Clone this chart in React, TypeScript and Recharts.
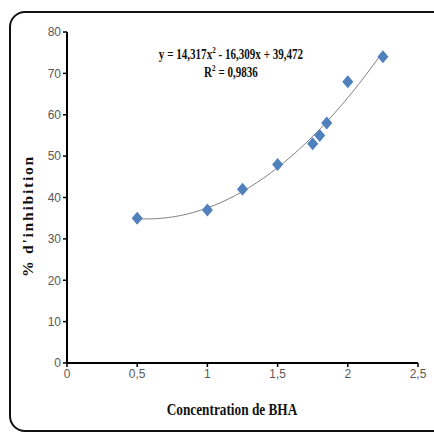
import React from "react";
import { ComposedChart, Scatter, Line, XAxis, YAxis } from "recharts";

// Measured points (BHA concentration vs % inhibition)
const concentrations = [0.5, 1, 1.25, 1.5, 1.75, 1.8, 1.85, 2, 2.25];
const inhibition = [35, 37, 42, 48, 53, 55, 58, 68, 74];

// Polynomial trendline coefficients as printed on the chart
const trendA = 14.317;
const trendB = -16.309;
const trendC = 39.472;
const trendStart = 0.5;
const trendEnd = 2.25;

const xTicks = [0, 0.5, 1, 1.5, 2, 2.5];
const yTicks = [0, 10, 20, 30, 40, 50, 60, 70, 80];

const points = concentrations.map((x, i) => ({ x, y: inhibition[i] }));

const trend: { x: number; t: number }[] = [];
for (let i = 0; i <= 70; i++) {
  const x = trendStart + ((trendEnd - trendStart) * i) / 70;
  trend.push({ x, t: trendA * x * x + trendB * x + trendC });
}

const fmt = (v: number) => String(v).replace(".", ",");

const tickFont = {
  fill: "#595959",
  fontSize: 12,
  fontFamily: "'Liberation Sans Narrow', 'Liberation Sans', Arial, sans-serif",
};

const serif = "'Liberation Serif', 'Times New Roman', serif";

const Diamond = (props: any) => {
  const { cx, cy } = props;
  if (cx == null || cy == null) return null;
  const r = 6.5;
  return (
    <path
      d={`M${cx},${cy - r} L${cx + r * 0.85},${cy} L${cx},${cy + r} L${cx - r * 0.85},${cy} Z`}
      fill="#4F81BD"
    />
  );
};

export default function App() {
  return (
    <div
      style={{
        position: "absolute",
        left: 0,
        top: 0,
        width: 434,
        height: 440,
        background: "#fff",
        overflow: "hidden",
      }}
    >
      <div
        style={{
          position: "absolute",
          left: 9,
          top: 11,
          width: 440,
          height: 421,
          border: "2.5px solid #111",
          borderRadius: 16,
          boxSizing: "border-box",
        }}
      />
      <div style={{ position: "absolute", left: 0, top: 0 }}>
        <ComposedChart
          width={434}
          height={440}
          margin={{ top: 32, right: 16, bottom: 47, left: 17 }}
        >
          <XAxis
            type="number"
            dataKey="x"
            domain={[0, 2.5]}
            ticks={xTicks}
            tickFormatter={fmt}
            axisLine={{ stroke: "#000", strokeWidth: 2 }}
            tickLine={{ stroke: "#000", strokeWidth: 1.5 }}
            tickSize={4}
            tick={tickFont}
            height={30}
            allowDataOverflow
          />
          <YAxis
            type="number"
            domain={[0, 80]}
            ticks={yTicks}
            axisLine={{ stroke: "#000", strokeWidth: 2 }}
            tickLine={{ stroke: "#000", strokeWidth: 1.5 }}
            tickSize={4}
            tick={tickFont}
            width={50}
            allowDataOverflow
          />
          <Line
            data={trend}
            dataKey="t"
            type="monotone"
            stroke="#7f7f7f"
            strokeWidth={1}
            dot={false}
            activeDot={false}
            isAnimationActive={false}
          />
          <Scatter
            data={points}
            dataKey="y"
            shape={Diamond}
            isAnimationActive={false}
          />
        </ComposedChart>
      </div>
      <div
        style={{
          position: "absolute",
          left: 81,
          width: 300,
          top: 46,
          textAlign: "center",
          fontFamily: serif,
          fontWeight: "bold",
          fontSize: 14,
          lineHeight: "18px",
          color: "#111",
          transform: "scaleX(0.79)",
        }}
      >
        <div>
          y = 14,317x<sup style={{ fontSize: 9, lineHeight: 0 }}>2</sup> - 16,309x + 39,472
        </div>
        <div>
          R<sup style={{ fontSize: 9, lineHeight: 0 }}>2</sup> = 0,9836
        </div>
      </div>
      <div
        style={{
          position: "absolute",
          left: 82,
          width: 300,
          top: 400,
          textAlign: "center",
          fontFamily: serif,
          fontWeight: "bold",
          fontSize: 16,
          lineHeight: "20px",
          color: "#111",
          transform: "scaleX(0.83)",
        }}
      >
        Concentration de BHA
      </div>
      <div
        style={{
          position: "absolute",
          left: 28,
          top: 216,
          width: 200,
          marginLeft: -100,
          marginTop: -10,
          lineHeight: "20px",
          textAlign: "center",
          fontFamily: serif,
          fontWeight: "bold",
          fontSize: 15,
          letterSpacing: 1.6,
          color: "#111",
          transform: "rotate(-90deg) scaleX(1.05)",
        }}
      >
        % d'inhibition
      </div>
    </div>
  );
}
